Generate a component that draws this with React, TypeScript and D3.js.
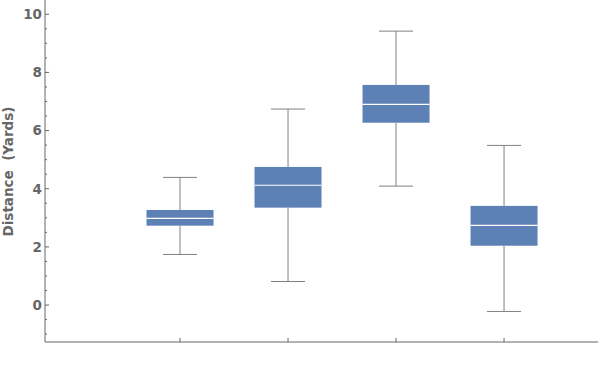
import React from "react";
import * as d3 from "d3";

const categories = [1, 2, 3, 4];
const whiskerMin = [1.74, 0.81, 4.09, -0.22];
const q1 = [2.73, 3.35, 6.27, 2.04];
const medians = [2.98, 4.12, 6.9, 2.74];
const q3 = [3.27, 4.75, 7.57, 3.41];
const whiskerMax = [4.39, 6.74, 9.42, 5.49];
const yTicks = [0, 2, 4, 6, 8, 10];

const W = 600;
const H = 370;
const left = 45;
const right = 598;
const top = 0;
const bottom = 342;

export default function App() {
  const x = d3.scaleLinear().domain([-0.25, 4.87]).range([left, right]);
  const y = d3.scaleLinear().domain([-1.27, 10.49]).range([bottom, top]);
  const minorTicks = d3.range(-1, 10.5, 0.5).filter((v) => !yTicks.includes(v));
  const boxW = 67;
  const capW = 34;
  const axisColor = "#666666";
  const lineColor = "#808080";
  const boxColor = "#5E81B5";
  const font = "DejaVu Sans, sans-serif";

  return (
    <svg width={W} height={H} style={{ position: "absolute", left: 0, top: 0, background: "#fff" }}>
      {categories.map((c, i) => {
        const cx = x(c);
        return (
          <g key={c}>
            <line x1={cx} x2={cx} y1={y(whiskerMax[i])} y2={y(q3[i])} stroke={lineColor} strokeWidth={1} />
            <line x1={cx} x2={cx} y1={y(q1[i])} y2={y(whiskerMin[i])} stroke={lineColor} strokeWidth={1} />
            <line x1={cx - capW / 2} x2={cx + capW / 2} y1={y(whiskerMax[i])} y2={y(whiskerMax[i])} stroke={lineColor} strokeWidth={1} />
            <line x1={cx - capW / 2} x2={cx + capW / 2} y1={y(whiskerMin[i])} y2={y(whiskerMin[i])} stroke={lineColor} strokeWidth={1} />
            <rect x={cx - boxW / 2} y={y(q3[i])} width={boxW} height={y(q1[i]) - y(q3[i])} fill={boxColor} />
            <line x1={cx - boxW / 2} x2={cx + boxW / 2} y1={y(medians[i])} y2={y(medians[i])} stroke="#ffffff" strokeWidth={1.2} />
          </g>
        );
      })}
      <line x1={left} x2={left} y1={top} y2={bottom} stroke={axisColor} strokeWidth={1} />
      <line x1={left} x2={right} y1={bottom} y2={bottom} stroke={axisColor} strokeWidth={1} />
      {yTicks.map((t) => (
        <g key={t}>
          <line x1={left} x2={left + 4} y1={y(t)} y2={y(t)} stroke={axisColor} strokeWidth={1} />
          <text x={left - 3} y={y(t)} dy="0.36em" textAnchor="end" fontFamily={font} fontWeight="bold" fontSize={13.5} fill={axisColor}>
            {t}
          </text>
        </g>
      ))}
      {minorTicks.map((t) => (
        <line key={t} x1={left} x2={left + 2} y1={y(t)} y2={y(t)} stroke={axisColor} strokeWidth={1} />
      ))}
      {categories.map((c) => (
        <line key={c} x1={x(c)} x2={x(c)} y1={bottom} y2={bottom - 4} stroke={axisColor} strokeWidth={1} />
      ))}
      <text
        transform={`translate(13, 171.5) rotate(-90)`}
        textAnchor="middle"
        fontFamily={font}
        fontWeight="bold"
        fontSize={13.5}
        fill={axisColor}
        style={{ whiteSpace: "pre" }}
      >
        {"Distance  (Yards)"}
      </text>
    </svg>
  );
}
